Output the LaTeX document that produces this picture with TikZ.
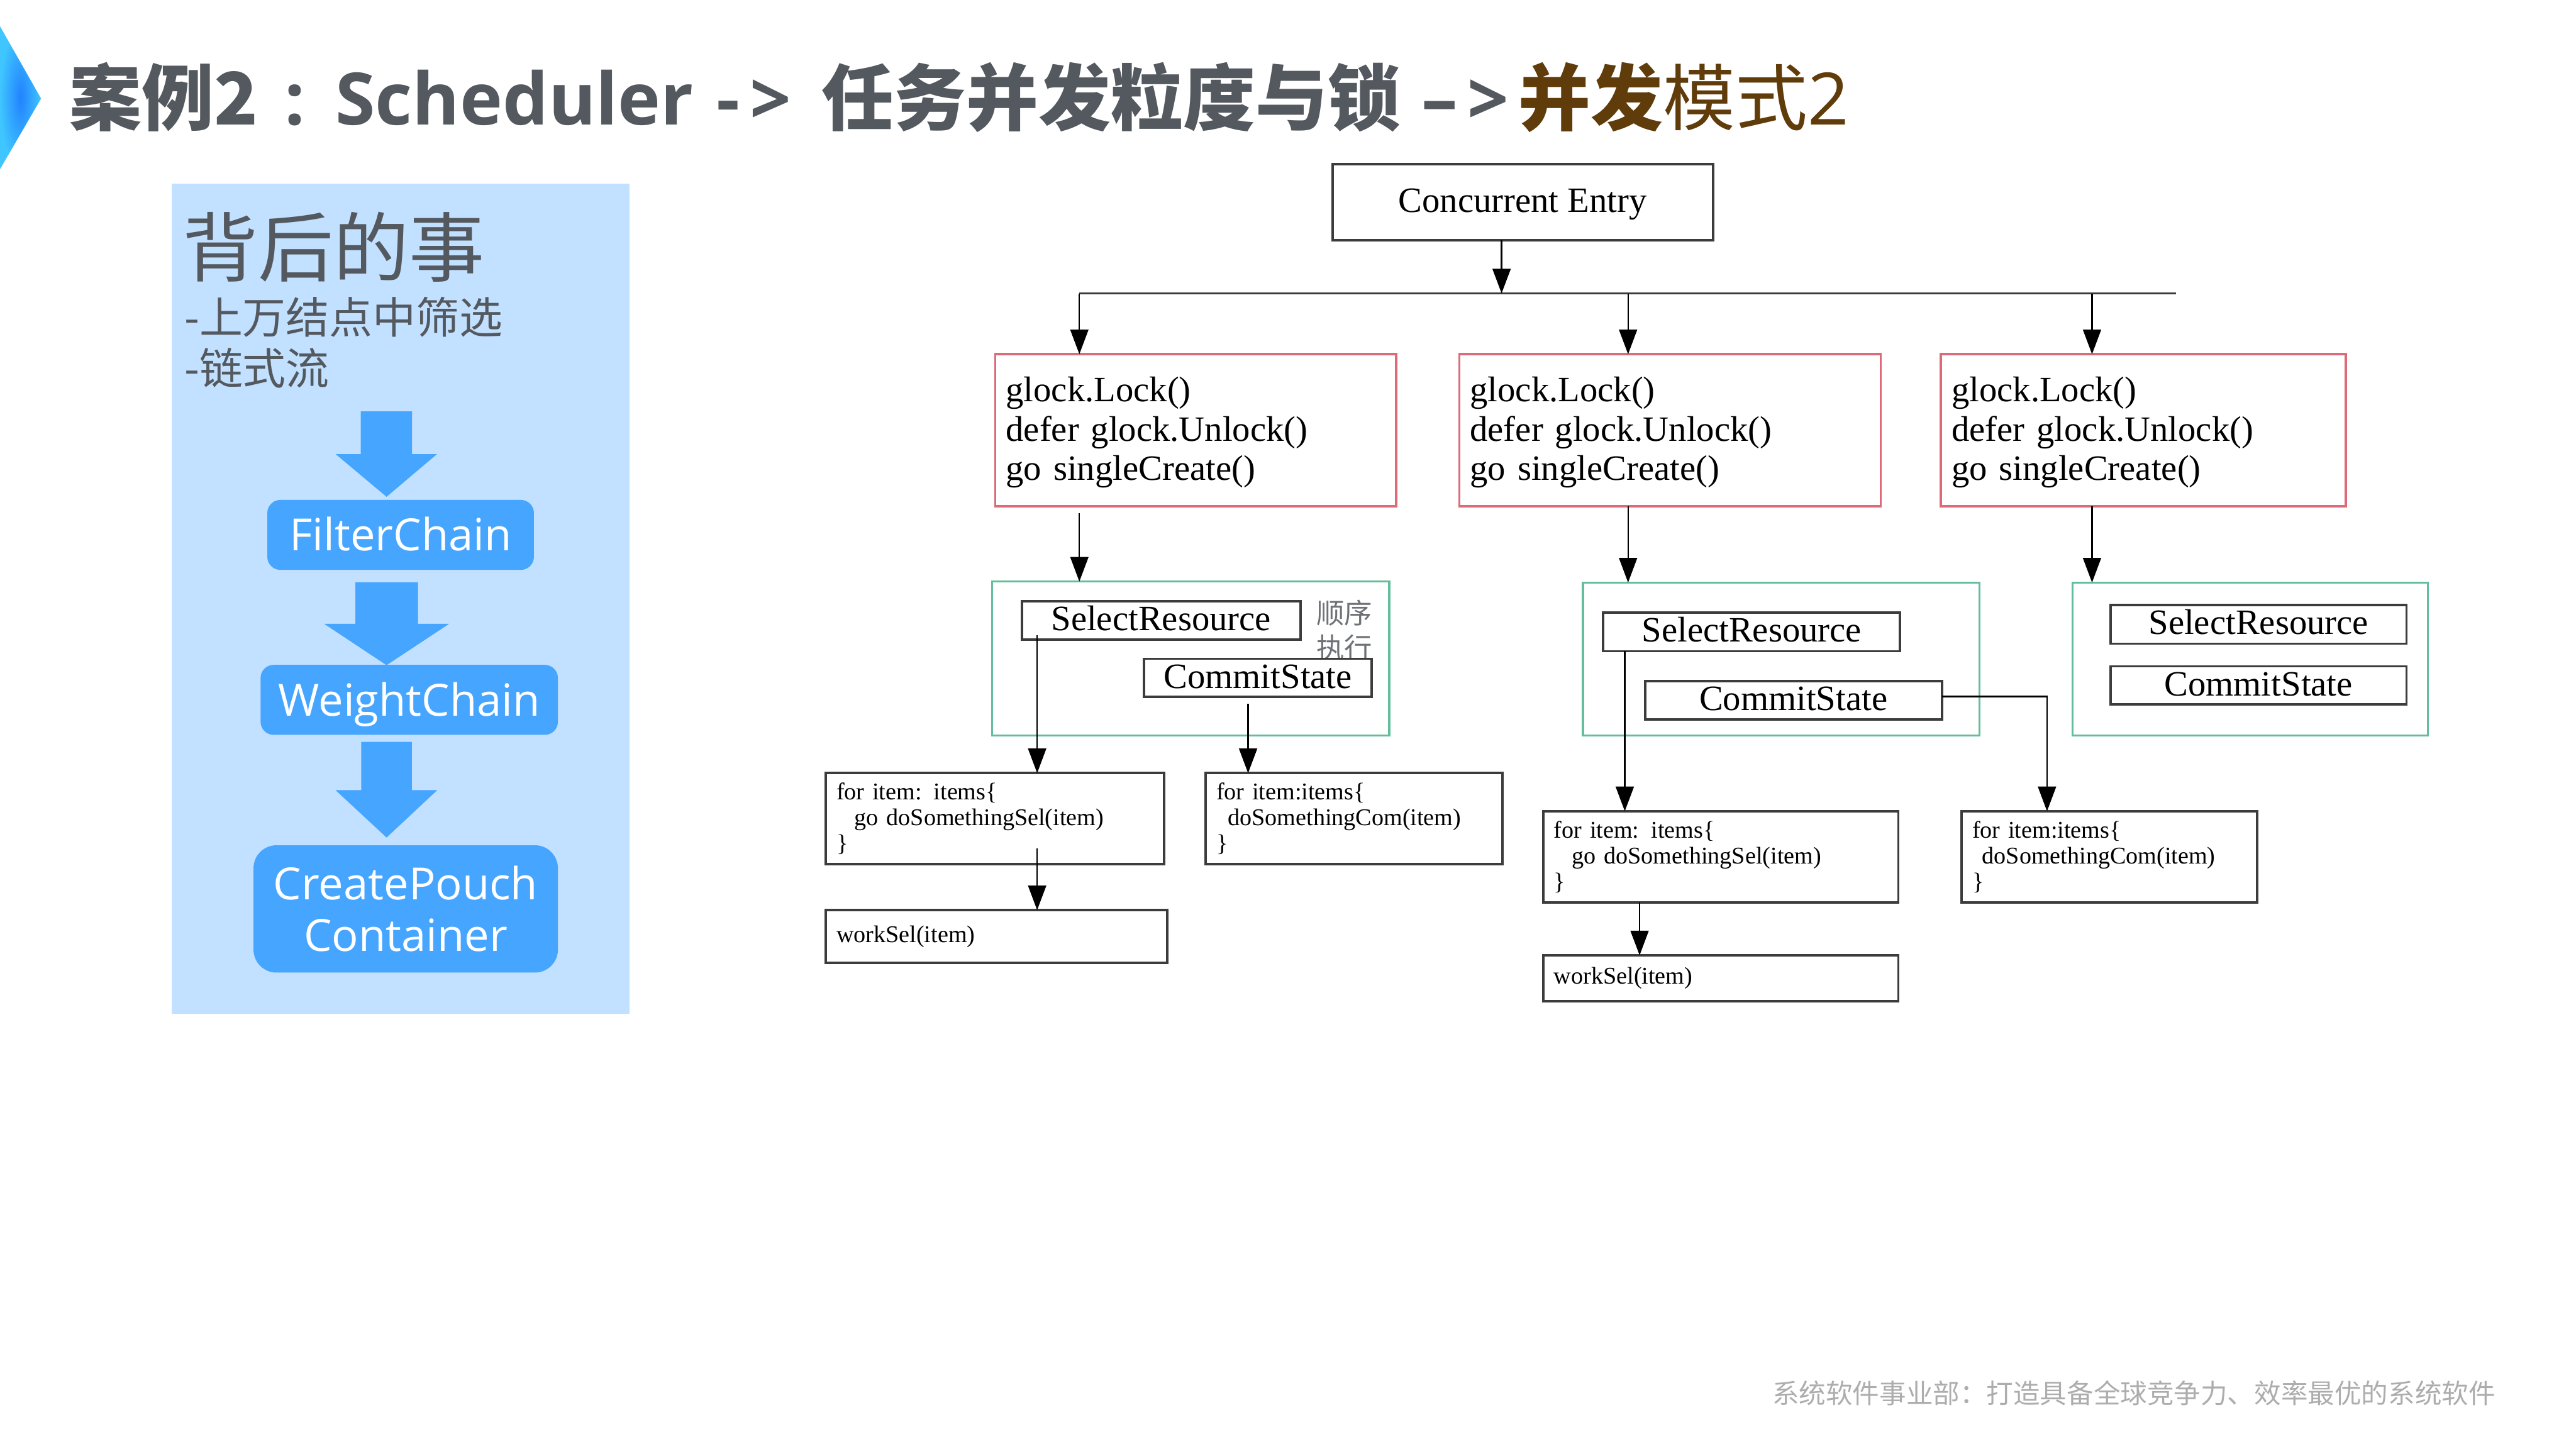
\documentclass[tikz,border=0pt]{standalone}
\usepackage{fontspec}
\usepackage{tikz}
\usetikzlibrary{arrows.meta}
\setmainfont{Open Sans}
\newfontfamily\cjk{Noto Sans CJK SC}
\newfontfamily\codefont{Liberation Serif}
\definecolor{titlegray}{HTML}{54595F}
\definecolor{titlebrown}{HTML}{5F3C0A}
\definecolor{panelblue}{HTML}{C2E0FF}
\definecolor{chainblue}{HTML}{46A5FF}
\definecolor{lockred}{HTML}{DD6A76}
\definecolor{groupgreen}{HTML}{62BE9C}
\definecolor{boxline}{HTML}{3C3C3C}
\tikzset{
  flow/.style={draw=black, line width=0.9pt, -{Triangle[length=15pt,width=11pt]}},
  plainbox/.style={draw=boxline, line width=1.5pt, fill=white, anchor=north west, inner sep=0pt, outer sep=0pt, align=center, font=\codefont\fontsize{21.7}{24}\selectfont},
  stepbox/.style={plainbox, text height=14.5pt, text depth=2pt},
  lockbox/.style={plainbox, draw=lockred, align=left, inner xsep=6.5pt, minimum width=#1, text width=#1-13pt},
  groupbox/.style={draw=groupgreen, line width=1.2pt, anchor=north west, inner sep=0pt, outer sep=0pt},
  codebox/.style={plainbox, align=left, inner xsep=6.5pt, minimum width=#1, text width=#1-13pt, font=\codefont\fontsize{14.6}{15.6}\selectfont},
  chainbox/.style={fill=chainblue, anchor=north west, inner sep=0pt, outer sep=0pt, text=white, align=center, font=\fontsize{27}{31.4}\selectfont},
  titletext/.style={anchor=base west, inner sep=0pt, text=titlegray, font=\bfseries\fontsize{44}{44}\selectfont},
  paneltext/.style={anchor=base west, inner sep=0pt, text=titlegray}
}
\begin{document}
\begin{tikzpicture}[x=1pt, y=-1pt]
  \useasboundingbox (0,0) rectangle (1568,882);
  % Title
  \shade[inner color=chainblue!60!blue!80!cyan, outer color=cyan!70!blue!75] (0,16) -- (25,60) -- (0,103) -- cycle;
  \node[titletext] (t1) at (42,76) {\cjk 案例2};
  \node[titletext] (colon) at (173,76) {:};
  \node[titletext] (t2) at (204,76) {Scheduler};
  \node[titletext] (t3) at (436,76) {-\hspace{6pt}>};
  \node[titletext] (t4) at (500,76) {\cjk 任务并发粒度与锁};
  \node[titletext] (t5) at (865,76) {–\hspace{6pt}>};
  \node[titletext, text=titlebrown] (t6) at (924,76) {\cjk 并发};
  \node[titletext, text=titlebrown, font=\fontsize{44}{44}\selectfont] (t7) at (1012,76) {\cjk 模式\rmfamily 2};
  % Left panel
  \fill[panelblue] (104.5,111.7) rectangle (383,617);
  \node[paneltext, font=\cjk\fontsize{46}{46}\selectfont] (p1) at (111,168) {背后的事};
  \node[paneltext, font=\cjk\fontsize{26.4}{26.4}\selectfont] (p2) at (112,203) {-上万结点中筛选};
  \node[paneltext, font=\cjk\fontsize{26.4}{26.4}\selectfont] (p3) at (112,234) {-链式流};
  \foreach \l/\r/\a/\b/\wl/\wr/\tip in {219.6/250.8/250.4/276.4/204.3/266/302.4, 216.3/254.4/354.4/379.7/197.3/273.4/404.9, 219.9/250.7/451.6/481/204.3/266.1/509.8}
    \fill[chainblue] (\l,\a) -- (\r,\a) -- (\r,\b) -- (\wr,\b) -- (235.3,\tip) -- (\wl,\b) -- (\l,\b) -- cycle;
  \node[chainbox, rounded corners=8pt, minimum width=162.3pt, minimum height=42.6pt, text height=19.3pt, text depth=0pt] (filter) at (162.7,304.3) {FilterChain};
  \node[chainbox, rounded corners=8pt, minimum width=181pt, minimum height=42.6pt, text height=19.3pt, text depth=0pt] (weight) at (158.6,404.7) {WeightChain};
  \node[chainbox, rounded corners=14pt, minimum width=185.3pt, minimum height=77.5pt] (create) at (154.3,514.5) {CreatePouch\\Container};
  % Entry
  \node[stepbox, minimum width=231.7pt, minimum height=46.3pt] (entry) at (811,99.9) {Concurrent Entry};
  \coordinate (barl) at (657,178.6);
  \coordinate (barr) at (1324.6,178.6);
  \coordinate (bart) at (914,178.6);
  \draw[draw=boxline, line width=1.5pt] (barl) -- (barr);
  \draw[flow] (entry.south -| bart) -- (bart);
  % Locks
  \foreach \name/\x/\w in {lock1/605.8/243.9pt, lock2/888.3/256.5pt, lock3/1181.4/246.6pt}
    \node[lockbox=\w, minimum height=92.4pt] (\name) at (\x,215.6) {\rule{0pt}{18pt}glock.Lock()\\defer glock.Unlock()\\go singleCreate()};
  \foreach \name/\x in {lock1/657, lock2/991, lock3/1273.4}
    \draw[flow] (\x,178.6) -- (\x,0 |- \name.north);
  % Groups
  \node[groupbox, minimum width=241.8pt, minimum height=93.8pt] (group1) at (603.8,354) {};
  \node[groupbox, minimum width=241.5pt, minimum height=93.2pt] (group2) at (963.5,354.6) {};
  \node[groupbox, minimum width=216pt, minimum height=93.2pt] (group3) at (1261.7,354.6) {};
  \coordinate (g1) at (657,312.4);
  \coordinate (g2) at (991,308);
  \coordinate (g3) at (1273.4,308);
  \draw[flow] (g1) -- (g1 |- group1.north);
  \draw[flow] (g2) -- (g2 |- group2.north);
  \draw[flow] (g3) -- (g3 |- group3.north);
  \node[anchor=center, inner sep=0pt, text=titlegray!85, align=center, font=\cjk\fontsize{17}{21}\selectfont] (order) at (818.4,383.5) {顺序\\执行};
  % Steps
  \node[stepbox, minimum width=169.5pt, minimum height=23.3pt] (select1) at (622,366) {SelectResource};
  \node[stepbox, minimum width=138.6pt, minimum height=23.3pt] (commit1) at (696.4,401) {CommitState};
  \node[stepbox, minimum width=180.7pt, minimum height=23.6pt] (select2) at (975.9,372.8) {SelectResource};
  \node[stepbox, minimum width=180.7pt, minimum height=23.5pt] (commit2) at (1001.3,414.5) {CommitState};
  \node[stepbox, minimum width=180.1pt, minimum height=23.6pt] (select3) at (1284.7,368.2) {SelectResource};
  \node[stepbox, minimum width=180.1pt, minimum height=23.3pt] (commit3) at (1284.7,405.6) {CommitState};
  % Loops
  \node[codebox=205.8pt, minimum height=55.4pt] (for1) at (502.7,470.6) {for item: items\{\\\hspace*{11pt}go doSomethingSel(item)\\\}};
  \node[codebox=180.7pt, minimum height=55.4pt] (com1) at (733.9,470.6) {for item:items\{\\\hspace*{7pt}doSomethingCom(item)\\\}};
  \node[codebox=207.9pt, minimum height=32pt] (work1) at (502.7,554) {workSel(item)};
  \node[codebox=216.1pt, minimum height=55.7pt] (for2) at (939.4,493.8) {for item: items\{\\\hspace*{11pt}go doSomethingSel(item)\\\}};
  \node[codebox=180pt, minimum height=55.7pt] (com2) at (1194,493.8) {for item:items\{\\\hspace*{6pt}doSomethingCom(item)\\\}};
  \node[codebox=216.1pt, minimum height=28pt] (work2) at (939.4,581.5) {workSel(item)};
  % Arrows
  \coordinate (s1) at (631.3,386.6);
  \coordinate (c1) at (759.7,428.4);
  \coordinate (f1) at (631.3,516.3);
  \coordinate (s2) at (989,396.4);
  \coordinate (f2) at (998,549.5);
  \coordinate (c2) at (1182,423.9);
  \coordinate (c2t) at (1246,493.8);
  \draw[flow] (s1) -- (s1 |- for1.north);
  \draw[flow] (c1) -- (c1 |- com1.north);
  \draw[flow] (f1) -- (f1 |- work1.north);
  \draw[flow] (s2) -- (s2 |- for2.north);
  \draw[flow] (f2) -- (f2 |- work2.north);
  \draw[flow] (c2) -| (c2t);
  % Footer
  \node[anchor=west, inner sep=0pt, text=black!32, font=\cjk\fontsize{16.3}{16.3}\selectfont] (footer) at (1078.6,848) {系统软件事业部：打造具备全球竞争力、效率最优的系统软件};
\end{tikzpicture}
\end{document}
